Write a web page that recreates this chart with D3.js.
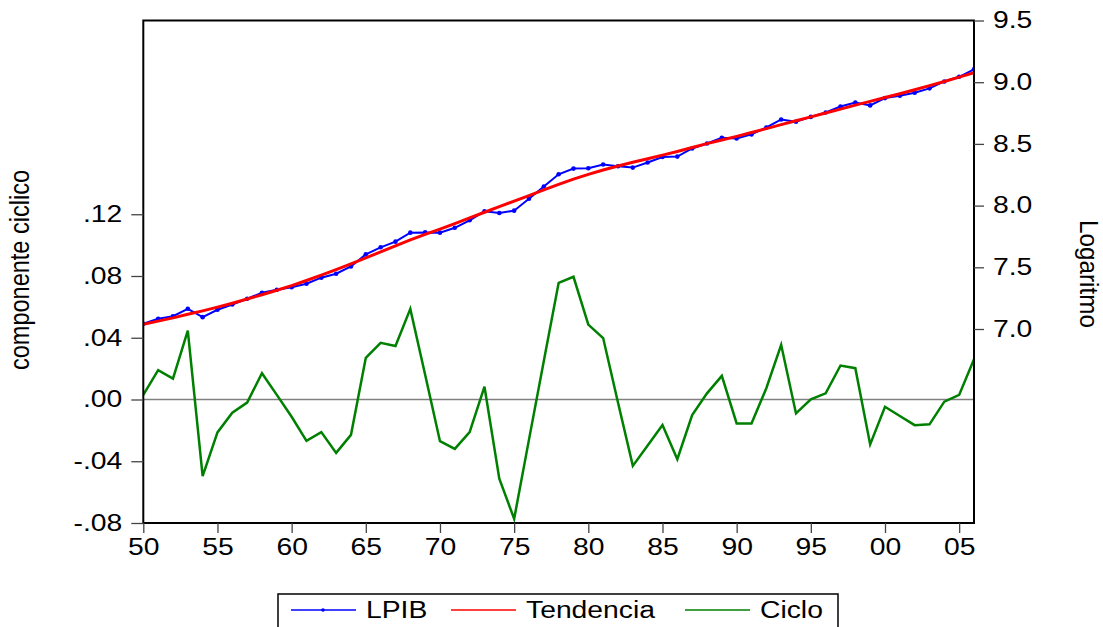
<!DOCTYPE html>
<html>
<head>
<meta charset="utf-8">
<script src="https://cdn.jsdelivr.net/npm/d3@7"></script>
<style>
  body { margin: 0; background: #fff; }
  text { font-family: "Liberation Sans", Arial, sans-serif; fill: #000; }
</style>
</head>
<body>
<div id="chart"></div>
<script>
// data
let years = d3.range(1950, 2007);
let lpib = [
  7.042, 7.083, 7.104, 7.164, 7.096, 7.156, 7.199, 7.245, 7.294, 7.318,
  7.339, 7.367, 7.416, 7.448, 7.507, 7.605, 7.662, 7.708, 7.781, 7.783,
  7.781, 7.820, 7.881, 7.954, 7.940, 7.959, 8.055, 8.155, 8.254, 8.300,
  8.303, 8.333, 8.319, 8.308, 8.349, 8.394, 8.397, 8.463, 8.503, 8.549,
  8.544, 8.577, 8.633, 8.698, 8.679, 8.719, 8.755, 8.803, 8.836, 8.812,
  8.871, 8.890, 8.914, 8.950, 9.006, 9.044, 9.104
];
let tendencia = [
  7.039, 7.064, 7.090, 7.119, 7.147, 7.177, 7.209, 7.243, 7.278, 7.314,
  7.352, 7.393, 7.436, 7.481, 7.528, 7.576, 7.625, 7.674, 7.722, 7.767,
  7.810, 7.854, 7.900, 7.946, 7.991, 8.036, 8.081, 8.127, 8.172, 8.214,
  8.253, 8.289, 8.321, 8.351, 8.380, 8.409, 8.439, 8.471, 8.502, 8.532,
  8.561, 8.592, 8.624, 8.656, 8.688, 8.719, 8.750, 8.782, 8.814, 8.845,
  8.876, 8.907, 8.939, 8.972, 9.006, 9.041, 9.077
];
let ciclo = [
  0.003, 0.019, 0.0135, 0.0446, -0.0497, -0.0213, -0.0086, -0.002, 0.017, 0.003,
  -0.0112, -0.0268, -0.0211, -0.0346, -0.0229, 0.027, 0.0367, 0.0346, 0.0587, 0.016,
  -0.027, -0.032, -0.0211, 0.0083, -0.0513, -0.0773, -0.026, 0.025, 0.0756, 0.0795,
  0.0485, 0.0398, -0.002, -0.043, -0.0298, -0.0166, -0.0387, -0.0101, 0.004, 0.0153,
  -0.0155, -0.0155, 0.0073, 0.0354, -0.009, 0.0001, 0.004, 0.022, 0.0203, -0.0291,
  -0.0047, -0.0107, -0.0166, -0.0161, -0.0014, 0.003, 0.0261
];
let x_ticks = d3.range(1950, 2006, 5);
let left_ticks = [-0.08, -0.04, 0, 0.04, 0.08, 0.12];
let right_ticks = [7.0, 7.5, 8.0, 8.5, 9.0, 9.5];
let series_names = ["LPIB", "Tendencia", "Ciclo"];
let series_colors = ["#0000ff", "#ff0000", "#008000"];

let chart_width = 1103;
let chart_height = 627;
let plot_left = 143.3, plot_right = 974, plot_top = 20.5, plot_bottom = 523;
let stretch = 1.23; // text in the picture is wider than normal

let svg = d3.select("#chart").append("svg")
  .attr("width", chart_width)
  .attr("height", chart_height);

let x = d3.scaleLinear().domain([1950, 2006]).range([plot_left, plot_right]);
let y_left = d3.scaleLinear().domain([-0.08, 0.2455]).range([plot_bottom, plot_top]);
let y_right = d3.scaleLinear().domain([5.428, 9.5]).range([plot_bottom, plot_top]);

svg.append("clipPath").attr("id", "clip")
  .append("rect")
  .attr("x", plot_left).attr("y", plot_top)
  .attr("width", plot_right - plot_left).attr("height", plot_bottom - plot_top);

// zero line of the cycle
svg.append("line")
  .attr("x1", plot_left).attr("x2", plot_right)
  .attr("y1", y_left(0)).attr("y2", y_left(0))
  .attr("stroke", "#808080")
  .attr("stroke-width", 1.5);

let plot = svg.append("g").attr("clip-path", "url(#clip)");

let line_right = d3.line()
  .x(function (d, i) { return x(years[i]); })
  .y(function (d) { return y_right(d); });
let line_left = d3.line()
  .x(function (d, i) { return x(years[i]); })
  .y(function (d) { return y_left(d); });

plot.append("path")
  .attr("d", line_right(lpib))
  .attr("fill", "none")
  .attr("stroke", series_colors[0])
  .attr("stroke-width", 2);

plot.selectAll("circle.lpib")
  .data(lpib)
  .enter()
  .append("circle")
  .attr("class", "lpib")
  .attr("cx", function (d, i) { return x(years[i]); })
  .attr("cy", function (d) { return y_right(d); })
  .attr("r", 2.3)
  .attr("fill", series_colors[0]);

plot.append("path")
  .attr("d", line_right(tendencia))
  .attr("fill", "none")
  .attr("stroke", series_colors[1])
  .attr("stroke-width", 3);

plot.append("path")
  .attr("d", line_left(ciclo))
  .attr("fill", "none")
  .attr("stroke", series_colors[2])
  .attr("stroke-width", 2.5);

// frame
svg.append("rect")
  .attr("x", plot_left).attr("y", plot_top)
  .attr("width", plot_right - plot_left).attr("height", plot_bottom - plot_top)
  .attr("fill", "none")
  .attr("stroke", "#000")
  .attr("stroke-width", 2);

// axes
function style_axis(g) {
  g.select(".domain").remove();
  g.selectAll(".tick line").attr("stroke", "#444").attr("stroke-width", 1.3);
  g.selectAll(".tick text")
    .attr("font-size", 23)
    .attr("font-family", "Liberation Sans, Arial, sans-serif")
    .attr("fill", "#000");
}

svg.append("g")
  .attr("transform", "translate(0," + plot_bottom + ")")
  .call(d3.axisBottom(x).tickValues(x_ticks).tickSize(10).tickPadding(6)
    .tickFormat(function (d) { return String(d % 100).padStart(2, "0"); }))
  .call(style_axis);

svg.append("g")
  .attr("transform", "translate(" + plot_left + ",0)")
  .call(d3.axisLeft(y_left).tickValues(left_ticks).tickSize(12).tickPadding(9)
    .tickFormat(function (d) {
      // eviews style: ".04", "-.04" with a plain hyphen
      return (d < 0 ? "-" : "") + Math.abs(d).toFixed(2).replace("0.", ".");
    }))
  .call(style_axis);

svg.append("g")
  .attr("transform", "translate(" + plot_right + ",0)")
  .call(d3.axisRight(y_right).tickValues(right_ticks).tickSize(10).tickPadding(9)
    .tickFormat(d3.format(".1f")))
  .call(style_axis);

// axis titles
svg.append("text")
  .attr("transform", "translate(29,270) rotate(-90)")
  .attr("text-anchor", "middle")
  .attr("font-size", 27)
  .attr("textLength", 200)
  .attr("lengthAdjust", "spacingAndGlyphs")
  .text("componente ciclico");

svg.append("text")
  .attr("transform", "translate(1080,274) rotate(90)")
  .attr("text-anchor", "middle")
  .attr("font-size", 26)
  .attr("textLength", 108)
  .attr("lengthAdjust", "spacingAndGlyphs")
  .text("Logaritmo");

// legend
let legend = svg.append("g");
legend.append("rect")
  .attr("x", 278).attr("y", 594)
  .attr("width", 560).attr("height", 50)
  .attr("fill", "#fff")
  .attr("stroke", "#000")
  .attr("stroke-width", 1.5);

let legend_x = [291, 451, 685];
series_names.forEach(function (name, i) {
  let lx = legend_x[i];
  legend.append("line")
    .attr("x1", lx).attr("x2", lx + 65)
    .attr("y1", 610).attr("y2", 610)
    .attr("stroke", series_colors[i])
    .attr("stroke-width", 1.6);
  if (i == 0) {
    legend.append("circle")
      .attr("cx", lx + 32).attr("cy", 610).attr("r", 1.8)
      .attr("fill", series_colors[i]);
  }
  legend.append("text")
    .attr("class", "legend-text")
    .attr("x", lx + 75)
    .attr("y", 618)
    .attr("font-size", 23)
    .text(name);
});

// widen horizontal text like in the picture
svg.selectAll(".tick text, .legend-text").each(function () {
  let w = this.getComputedTextLength();
  d3.select(this)
    .attr("textLength", w * stretch)
    .attr("lengthAdjust", "spacingAndGlyphs");
});
</script>
</body>
</html>
